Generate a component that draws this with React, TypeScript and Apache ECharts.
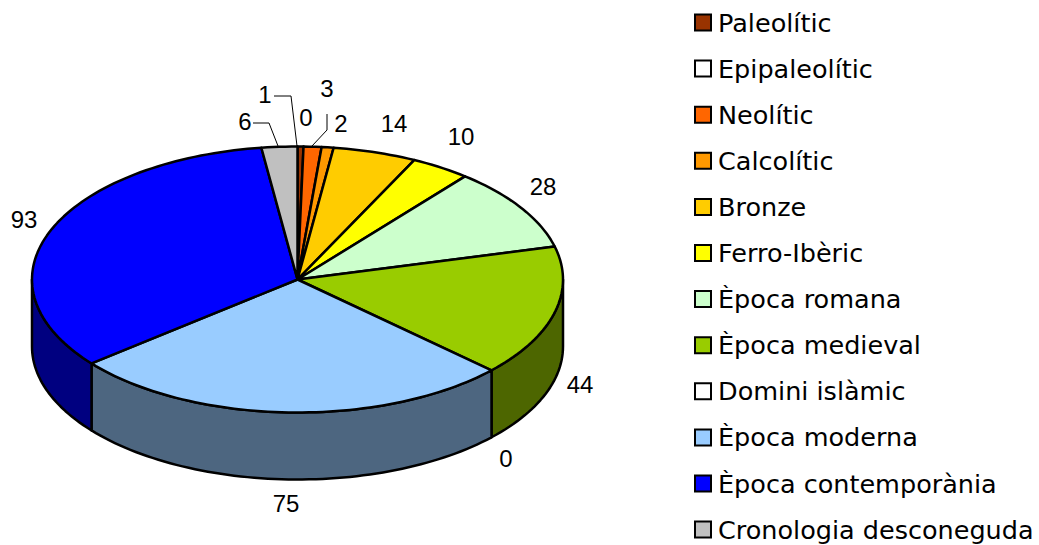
import React, { useEffect, useRef } from "react";
import * as echarts from "echarts";

const categories = ["Paleolític", "Epipaleolític", "Neolític", "Calcolític", "Bronze", "Ferro-Ibèric", "Època romana", "Època medieval", "Domini islàmic", "Època moderna", "Època contemporània", "Cronologia desconeguda"];
const values = [1, 0, 3, 2, 14, 10, 28, 44, 0, 75, 93, 6];
const colors = ["#993300", "#ffffff", "#ff6600", "#ff9900", "#ffcc00", "#ffff00", "#ccffcc", "#99cc00", "#ffffff", "#99ccff", "#0000ff", "#c0c0c0"];
const wallColors = ["#4d1a00", "#808080", "#803300", "#804d00", "#806600", "#808000", "#668066", "#4d6600", "#808080", "#4d6680", "#000080", "#606060"];
const labelPositions: [number, number][] = [[265, 94], [306, 117], [327, 88], [341, 123], [394, 123], [461, 136], [543, 186], [580, 384], [506, 458], [286, 503], [24, 219], [245, 121]];
const leaderLines: Record<number, [number, number][]> = {
  0: [[274, 96], [291, 96], [297, 146]],
  2: [[327, 114], [327, 130], [312, 146]],
  11: [[253, 123], [269, 123], [278, 146]],
};

const CX = 297.5, CY = 279.5, RX = 265.5, RY = 133, DEPTH = 67;
const total = values.reduce((a, b) => a + b, 0);
const startOf = (i: number) => values.slice(0, i).reduce((a, b) => a + b, 0);
const pt = (deg: number, dy = 0): [number, number] => {
  const r = (deg * Math.PI) / 180;
  return [CX + RX * Math.sin(r), CY - RY * Math.cos(r) + dy];
};
const arc = (a: number, b: number, dy = 0) => {
  const n = Math.max(2, Math.ceil(Math.abs(b - a) / 1.5));
  const out: [number, number][] = [];
  for (let k = 0; k <= n; k++) out.push(pt(a + ((b - a) * k) / n, dy));
  return out;
};

function makeRender(i: number) {
  return (_p: any, api: any) => {
    const v = api.value(0);
    const a0 = (startOf(i) / total) * 360;
    const a1 = a0 + (v / total) * 360;
    const children: any[] = [];
    const line = { stroke: "#000", lineWidth: 2.5, lineJoin: "round" };
    if (v > 0) {
      const w0 = Math.max(a0, 90), w1 = Math.min(a1, 270);
      if (w1 > w0) {
        children.push({
          type: "polygon",
          shape: { points: [...arc(w0, w1), ...arc(w1, w0, DEPTH)] },
          style: { fill: wallColors[i], ...line },
        });
      }
      children.push({
        type: "polygon",
        shape: { points: [[CX, CY], ...arc(a0, a1)] },
        style: { fill: colors[i], ...line },
      });
    }
    if (leaderLines[i]) {
      children.push({
        type: "polyline",
        shape: { points: leaderLines[i] },
        style: { fill: "none", stroke: "#000", lineWidth: 1 },
      });
    }
    const [lx, ly] = labelPositions[i];
    children.push({
      type: "text",
      x: lx,
      y: ly,
      style: {
        text: String(v),
        fill: "#000",
        font: '24px "Liberation Sans", Arial, sans-serif',
        align: "center",
        verticalAlign: "middle",
      },
    });
    return { type: "group", children };
  };
}

export default function App() {
  const ref = useRef<HTMLDivElement>(null);
  useEffect(() => {
    const chart = echarts.init(ref.current!, null, { renderer: "svg" });
    chart.setOption({
      animation: false,
      backgroundColor: "#ffffff",
      legend: {
        orient: "vertical",
        left: 694,
        top: 8.5,
        padding: 0,
        itemGap: 18.1,
        itemWidth: 16,
        itemHeight: 16,
        icon: "rect",
        selectedMode: false,
        textStyle: {
          fontFamily: "DejaVu Sans",
          fontSize: 25.5,
          color: "#000",
          lineHeight: 28,
          padding: [0, 0, 0, 2],
        },
        data: categories.map((name, i) => ({
          name,
          itemStyle: { color: colors[i], borderColor: "#000", borderWidth: 2 },
        })),
      },
      series: categories.map((name, i) => ({
        type: "custom",
        name,
        coordinateSystem: "none",
        renderItem: makeRender(i),
        silent: true,
        clip: false,
        itemStyle: { color: colors[i] },
        data: [[values[i]]],
      })),
    });
    return () => chart.dispose();
  }, []);
  return <div ref={ref} style={{ position: "fixed", left: 0, top: 0, width: 1039, height: 545 }} />;
}
